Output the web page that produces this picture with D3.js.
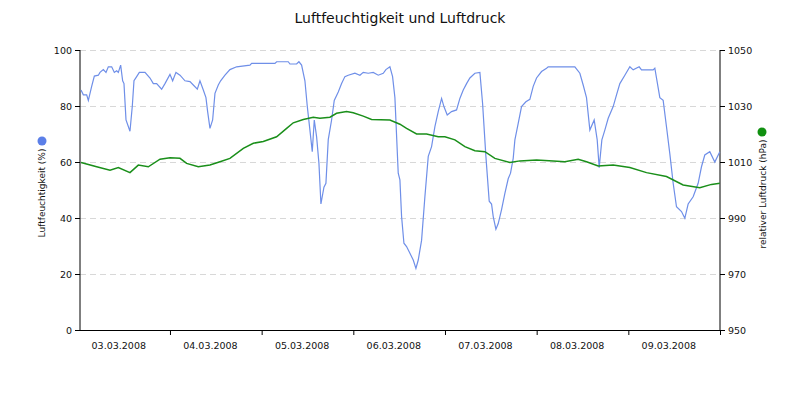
<!DOCTYPE html>
<html><head><meta charset="utf-8">
<script src="https://cdn.jsdelivr.net/npm/d3@7"></script>
<style>body{margin:0;background:#fff}text{font-family:"DejaVu Sans",sans-serif;fill:#111}</style>
</head><body><svg id="c" width="800" height="400"></svg>
<script>
const title = "Luftfeuchtigkeit und Luftdruck";
const dayLabels = ["03.03.2008","04.03.2008","05.03.2008","06.03.2008","07.03.2008","08.03.2008","09.03.2008"];
const humTicks = [0,20,40,60,80,100];
const presTicks = [950,970,990,1010,1030,1050];
// hours since 03.03.2008 00:00
const humHours = [0.71,1.32,2.19,2.63,3.5,4.2,5.25,5.68,6.55,7.25,7.86,8.74,9.43,10.04,10.48,11.09,11.61,11.96,12.49,13.53,14.14,14.58,15.28,15.98,17.46,18.77,19.64,20.51,21.82,22.69,24.0,24.7,25.57,26.62,27.93,29.24,30.11,31.16,31.85,32.73,33.42,33.86,34.47,35.17,35.78,36.65,37.26,38.4,39.7,41.45,44.94,45.38,51.48,51.92,54.97,55.41,57.15,57.76,58.46,59.33,59.94,60.64,61.25,61.78,62.39,63.0,63.52,64.31,64.83,65.44,66.31,67.01,68.06,68.93,69.8,70.67,72.42,73.73,74.6,75.91,77.22,78.53,79.84,80.53,81.58,82.28,82.89,83.76,
84.2,84.64,85.25,85.94,86.82,87.69,88.39,89.0,89.87,90.74,91.62,92.49,93.36,94.23,95.11,95.72,96.59,97.72,99.03,99.9,100.78,101.65,102.52,103.83,105.14,105.84,106.71,107.58,108.19,108.63,109.33,109.94,110.81,111.68,112.55,113.16,113.86,114.3,115.17,116.04,117.18,118.22,119.1,119.97,121.28,122.59,123.02,130.0,131.31,132.18,133.05,133.93,135.06,135.85,136.37,137.07,137.85,138.73,140.03,140.91,141.78,143.09,144.4,145.27,146.84,147.45,150.5,150.94,152.25,153.12,153.99,154.86,155.74,156.61,157.92,158.79,159.66,160.97,162.28,163.15,164.02,165.33,166.64,167.95];
const humValues = [85.7,84,84,82,87,90.7,91,92,93,92,94,94,92,92.6,92,94.6,89,88,75,71,80,89,90.5,92,92,90,88,88,86,88,91.3,89,92,91,89,88.7,87.5,86,89,85.7,83,78,72,75,84.5,87.5,89,91,93,94,94.6,95.2,95.2,95.8,95.8,95,95,95.8,94.6,89,80,71.4,63.7,75,69,59.5,45,51,52.4,68,75,82,85,88,90.5,91,91.7,91,92,91.7,92,91,91.7,93,94,90.5,83,56,
53.6,40.5,31,29.8,27.4,25,22,25,32,47.6,62,65.5,72.6,78,82.7,79.8,76.8,78,78.6,82.7,85.7,88,90,91.7,92,81,62,46,45,40.5,36,38,43,48.8,54,56,61.3,67.9,73.8,79.8,81.5,82.4,87,90,92.3,93.5,94,94,91.7,87.5,83,71.4,75,67.9,58,67.9,71.4,75.6,79.8,84,88,91,94,92.9,94,92.9,92.9,93.5,83,82,72.6,63,52.4,44,42.3,39.9,45,47.6,52.4,58.3,62.5,63.7,60,63.7];
const presHours = [0.71,4.81,8.3,10.48,13.53,15.71,18.33,21.39,24.0,26.62,28.36,31.42,34.47,37.09,39.7,43.2,45.81,48.43,51.92,54.54,56.28,58.9,61.52,63.26,65.88,67.62,70.24,71.98,74.6,76.78,81.58,84.2,85.94,88.56,91.18,94.23,95.98,98.6,101.21,103.83,106.45,109.06,112.99,115.61,119.97,124.33,127.38,130.87,133.05,136.11,140.03,144.4,148.76,153.99,158.35,162.71,165.77,167.95];
const presValues = [1009.8,1008.3,1007.1,1008,1006.2,1008.9,1008.3,1011,1011.5,1011.3,1009.5,1008.3,1008.9,1010.1,1011.3,1014.9,1016.7,1017.3,1019,1022,1024,1025.2,1026,1025.6,1026,1027.4,1028,1027.6,1026.4,1025.2,1025,1023.5,1022,1020,1020,1019,1019,1017.9,1015.5,1014,1013.7,1011.3,1009.8,1010.4,1010.7,1010.4,1010.1,1011,1010.1,1008.6,1008.9,1008,1006.2,1004.8,1001.8,1000.8,1002,1002.4];

const svg = d3.select("#c");
const L=80,R=720,T=50,B=330;
const x = d3.scaleLinear().domain([0,168]).range([78.3,720]);
const yH = d3.scaleLinear().domain([0,100]).range([B,T]);
const yP = d3.scaleLinear().domain([950,1050]).range([B,T]);

svg.append("text").attr("x",400).attr("y",23).attr("text-anchor","middle").style("font-size","14px").text(title);

svg.append("g").selectAll("line").data(humTicks.slice(1)).join("line")
  .attr("x1",L).attr("x2",R).attr("y1",d=>yH(d)+0.5).attr("y2",d=>yH(d)+0.5)
  .attr("stroke","#d8d8d8").attr("stroke-dasharray","6,4");

const fmt = d3.format("d");
const gl = svg.append("g").attr("transform",`translate(${L},0)`).call(d3.axisLeft(yH).tickValues(humTicks).tickSize(5).tickFormat(fmt));
const gr = svg.append("g").attr("transform",`translate(${R},0)`).call(d3.axisRight(yP).tickValues(presTicks).tickSize(5).tickFormat(fmt));
const gx = svg.append("g").attr("transform",`translate(0,${B})`).call(d3.axisBottom(x).tickValues([24,48,72,96,120,144,168]).tickSize(5).tickFormat(""));
[gl,gr,gx].forEach(g=>{g.select(".domain").remove();g.selectAll("line").attr("stroke","#000");g.selectAll("text").style("font-size","9.5px").attr("fill","#111");});
svg.append("line").attr("x1",L).attr("x2",L).attr("y1",T).attr("y2",B).attr("stroke","#000");
svg.append("line").attr("x1",R).attr("x2",R).attr("y1",T).attr("y2",B).attr("stroke","#000");
svg.append("line").attr("x1",L).attr("x2",R).attr("y1",B+0.5).attr("y2",B+0.5).attr("stroke","#000");

svg.append("g").selectAll("text").data(dayLabels).join("text")
  .attr("x",(d,i)=>x(i*24+10.6)).attr("y",349).attr("text-anchor","middle").style("font-size","9.5px").text(d=>d);

const hum = humHours.map((h,i)=>[h,humValues[i]]);
const pres = presHours.map((h,i)=>[h,presValues[i]]);
svg.append("path").datum(hum).attr("fill","none").attr("stroke","#6f8fe8").attr("stroke-width",1.2)
  .attr("d",d3.line().x(d=>x(d[0])).y(d=>yH(d[1])));
svg.append("path").datum(pres).attr("fill","none").attr("stroke","#1a8f1a").attr("stroke-width",1.5)
  .attr("d",d3.line().x(d=>x(d[0])).y(d=>yP(d[1])));

svg.append("circle").attr("cx",42).attr("cy",141).attr("r",4.5).attr("fill","#5b7fe8");
svg.append("text").attr("transform","translate(45,193) rotate(-90)").attr("text-anchor","middle").style("font-size","9px").text("Luftfeuchtigkeit (%)");
svg.append("circle").attr("cx",762).attr("cy",132).attr("r",4.5).attr("fill","#109010");
svg.append("text").attr("transform","translate(766,194) rotate(-90)").attr("text-anchor","middle").style("font-size","9px").text("relativer Luftdruck (hPa)");
</script></body></html>
